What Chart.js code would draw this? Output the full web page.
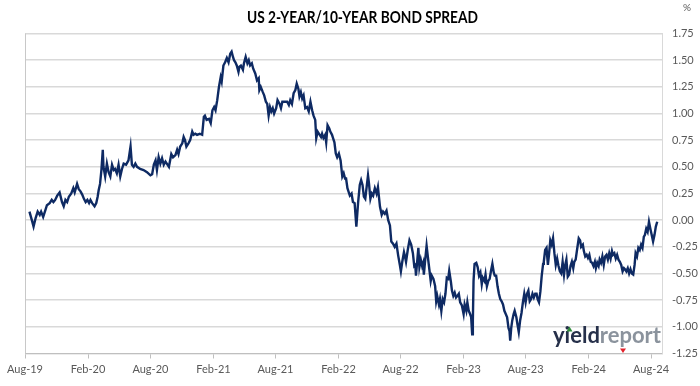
<!DOCTYPE html>
<html>
<head>
<meta charset="utf-8">
<script src="https://cdn.jsdelivr.net/npm/chart.js@4.4.1/dist/chart.umd.min.js"></script>
<style>
  html, body { margin: 0; padding: 0; background: #fff; }
  #wrap { width: 700px; height: 386px; position: relative; }
</style>
</head>
<body>
<div id="wrap"><canvas id="spread-chart"></canvas></div>
<script>
// one line per month, dates and values line up
const dates = [
    '2019-08-14','2019-08-21','2019-08-26',
    '2019-09-01','2019-09-07','2019-09-13','2019-09-17','2019-09-23','2019-09-29',
    '2019-10-04','2019-10-12','2019-10-18','2019-10-23','2019-10-28',
    '2019-11-03','2019-11-10','2019-11-17','2019-11-22','2019-11-27',
    '2019-12-02','2019-12-07','2019-12-14','2019-12-20','2019-12-24','2019-12-31',
    '2020-01-05','2020-01-10','2020-01-15','2020-01-20','2020-01-25','2020-01-30',
    '2020-02-04','2020-02-08','2020-02-13','2020-02-20','2020-02-25','2020-02-29',
    '2020-03-03','2020-03-07','2020-03-11','2020-03-15','2020-03-17','2020-03-22','2020-03-27',
    '2020-04-01','2020-04-06','2020-04-11','2020-04-16','2020-04-20','2020-04-25','2020-04-30',
    '2020-05-05','2020-05-10','2020-05-15','2020-05-22','2020-05-29',
    '2020-06-04','2020-06-08','2020-06-13','2020-06-18','2020-06-23',
    '2020-07-02','2020-07-12','2020-07-22',
    '2020-08-01','2020-08-06','2020-08-11','2020-08-16','2020-08-20','2020-08-25','2020-08-30',
    '2020-09-04','2020-09-09','2020-09-14','2020-09-24',
    '2020-10-01','2020-10-06','2020-10-13','2020-10-18','2020-10-22','2020-10-27',
    '2020-11-02','2020-11-06','2020-11-10','2020-11-14','2020-11-20','2020-11-25',
    '2020-12-01','2020-12-05','2020-12-10','2020-12-15','2020-12-23','2020-12-30',
    '2021-01-04','2021-01-07','2021-01-12','2021-01-19','2021-01-24','2021-01-29',
    '2021-02-03','2021-02-07','2021-02-12','2021-02-17','2021-02-22','2021-02-25','2021-02-28',
    '2021-03-02','2021-03-07','2021-03-12','2021-03-17','2021-03-22','2021-03-26','2021-03-30',
    '2021-04-02','2021-04-06','2021-04-10','2021-04-15','2021-04-18','2021-04-22','2021-04-28',
    '2021-05-01','2021-05-06','2021-05-11','2021-05-15','2021-05-19','2021-05-24','2021-05-28',
    '2021-06-03','2021-06-08','2021-06-13','2021-06-15','2021-06-19','2021-06-25','2021-06-29',
    '2021-07-04','2021-07-08','2021-07-12','2021-07-16','2021-07-20','2021-07-24','2021-07-28',
    '2021-08-03','2021-08-07','2021-08-13','2021-08-17','2021-08-21','2021-08-26',
    '2021-09-04','2021-09-09','2021-09-13','2021-09-18','2021-09-23','2021-09-28',
    '2021-10-02','2021-10-07','2021-10-10','2021-10-14','2021-10-18','2021-10-22','2021-10-27',
    '2021-11-01','2021-11-06','2021-11-11','2021-11-16','2021-11-20','2021-11-25','2021-11-28',
    '2021-12-02','2021-12-08','2021-12-12','2021-12-15','2021-12-19','2021-12-24','2021-12-27','2021-12-31',
    '2022-01-05','2022-01-08','2022-01-13','2022-01-16','2022-01-20','2022-01-24','2022-01-28',
    '2022-02-02','2022-02-07','2022-02-10','2022-02-12','2022-02-16','2022-02-20','2022-02-23','2022-02-27',
    '2022-03-02','2022-03-06','2022-03-11','2022-03-15','2022-03-20','2022-03-25','2022-03-30',
    '2022-04-04','2022-04-08','2022-04-12','2022-04-16','2022-04-20','2022-04-24','2022-04-28',
    '2022-05-01','2022-05-05','2022-05-09','2022-05-13','2022-05-18','2022-05-23','2022-05-27',
    '2022-06-02','2022-06-07','2022-06-11','2022-06-16','2022-06-21','2022-06-26',
    '2022-07-01','2022-07-05','2022-07-10','2022-07-15','2022-07-20','2022-07-25','2022-07-30',
    '2022-08-02','2022-08-06','2022-08-11','2022-08-14','2022-08-17','2022-08-22','2022-08-27',
    '2022-09-01','2022-09-06','2022-09-10','2022-09-13','2022-09-15','2022-09-19','2022-09-22','2022-09-25','2022-09-29',
    '2022-10-03','2022-10-06','2022-10-08','2022-10-12','2022-10-16','2022-10-21','2022-10-24','2022-10-28','2022-10-31',
    '2022-11-05','2022-11-10','2022-11-13','2022-11-16','2022-11-21','2022-11-24','2022-11-28',
    '2022-12-02','2022-12-06','2022-12-10','2022-12-14','2022-12-18','2022-12-21','2022-12-26','2022-12-29',
    '2023-01-02','2023-01-06','2023-01-10','2023-01-14','2023-01-18','2023-01-22','2023-01-27',
    '2023-02-01','2023-02-04','2023-02-09','2023-02-12','2023-02-16','2023-02-20','2023-02-23','2023-02-26','2023-02-28',
    '2023-03-02','2023-03-05','2023-03-10','2023-03-14','2023-03-18','2023-03-22','2023-03-26','2023-03-29',
    '2023-04-03','2023-04-06','2023-04-10','2023-04-14','2023-04-18','2023-04-22','2023-04-26','2023-04-30',
    '2023-05-03','2023-05-07','2023-05-11','2023-05-15','2023-05-19','2023-05-23','2023-05-27','2023-05-31',
    '2023-06-04','2023-06-08','2023-06-12','2023-06-15','2023-06-17','2023-06-20','2023-06-23','2023-06-27','2023-06-30',
    '2023-07-05','2023-07-08','2023-07-12','2023-07-16','2023-07-20','2023-07-24','2023-07-28',
    '2023-08-01','2023-08-05','2023-08-09','2023-08-13','2023-08-17','2023-08-21','2023-08-25','2023-08-29',
    '2023-09-02','2023-09-05','2023-09-09','2023-09-13','2023-09-17','2023-09-21','2023-09-23','2023-09-27',
    '2023-10-01','2023-10-05','2023-10-08','2023-10-12','2023-10-16','2023-10-20','2023-10-24','2023-10-28',
    '2023-11-01','2023-11-05','2023-11-09','2023-11-13','2023-11-17','2023-11-21','2023-11-24','2023-11-28',
    '2023-12-02','2023-12-06','2023-12-10','2023-12-14','2023-12-18','2023-12-21','2023-12-25','2023-12-29',
    '2024-01-03','2024-01-07','2024-01-10','2024-01-15','2024-01-18','2024-01-22','2024-01-26','2024-01-30',
    '2024-02-03','2024-02-07','2024-02-11','2024-02-15','2024-02-19','2024-02-22','2024-02-26',
    '2024-03-01','2024-03-04','2024-03-08','2024-03-12','2024-03-16','2024-03-20','2024-03-24','2024-03-28',
    '2024-04-01','2024-04-05','2024-04-09','2024-04-12','2024-04-16','2024-04-20','2024-04-24','2024-04-28',
    '2024-05-02','2024-05-06','2024-05-10','2024-05-14','2024-05-17','2024-05-21','2024-05-25','2024-05-29',
    '2024-06-02','2024-06-06','2024-06-10','2024-06-14','2024-06-17','2024-06-21','2024-06-25','2024-06-29',
    '2024-07-03','2024-07-07','2024-07-11','2024-07-14','2024-07-18','2024-07-22','2024-07-26','2024-07-30',
    '2024-08-03','2024-08-07','2024-08-11','2024-08-15','2024-08-19'
];

const spread = [
    0.08, 0.00, -0.06,
    0.02, 0.08, 0.05, 0.08, 0.03, 0.09,
    0.14, 0.16, 0.19, 0.17, 0.19,
    0.23, 0.26, 0.17, 0.13, 0.19,
    0.17, 0.22, 0.25, 0.30, 0.26, 0.34,
    0.29, 0.27, 0.24, 0.20, 0.17, 0.19,
    0.16, 0.19, 0.16, 0.13, 0.16, 0.22,
    0.28, 0.34, 0.47, 0.66, 0.50, 0.41, 0.53,
    0.45, 0.41, 0.52, 0.47, 0.48, 0.44, 0.52,
    0.41, 0.48, 0.53, 0.52, 0.56,
    0.69, 0.52, 0.50, 0.53, 0.50,
    0.48, 0.47, 0.45,
    0.42, 0.43, 0.52, 0.56, 0.47, 0.59, 0.53,
    0.58, 0.52, 0.55, 0.50,
    0.62, 0.59, 0.61, 0.66, 0.62, 0.69,
    0.72, 0.78, 0.75, 0.69, 0.72, 0.75,
    0.83, 0.80, 0.81, 0.80, 0.81, 0.80,
    0.97, 0.98, 0.94, 0.95, 0.91, 1.03,
    1.06, 1.03, 1.125, 1.25, 1.34, 1.30, 1.39,
    1.45, 1.48, 1.52, 1.48, 1.56, 1.58, 1.53,
    1.50, 1.48, 1.45, 1.39, 1.44, 1.45, 1.41,
    1.47, 1.53, 1.47, 1.50, 1.45, 1.47, 1.42,
    1.375, 1.31, 1.33, 1.22, 1.25, 1.20, 1.17,
    1.11, 1.09, 0.98, 1.06, 1.02, 1.05, 1.00,
    1.05, 1.125, 1.09, 1.05, 1.11, 1.11,
    1.11, 1.08, 1.125, 1.09, 1.19, 1.22,
    1.28, 1.23, 1.16, 1.20, 1.14, 1.17, 1.05,
    1.06, 1.02, 1.11, 1.03, 0.98, 0.94, 0.77,
    0.83, 0.80, 0.78, 0.81, 0.77, 0.80, 0.73, 0.89,
    0.86, 0.83, 0.80, 0.77, 0.73, 0.625, 0.59,
    0.625, 0.56, 0.47, 0.41, 0.44, 0.39, 0.39, 0.30,
    0.27, 0.23, 0.25, 0.17, 0.16, -0.06, 0.16,
    0.33, 0.375, 0.33, 0.22, 0.20, 0.31, 0.42,
    0.34, 0.20, 0.25, 0.23, 0.30, 0.25, 0.31,
    0.125, 0.05, 0.08, 0.06, 0.09, 0.00,
    -0.05, -0.20, -0.22, -0.25, -0.22, -0.33, -0.42,
    -0.48, -0.39, -0.30, -0.34, -0.39, -0.28, -0.19,
    -0.23, -0.31, -0.43, -0.42, -0.52, -0.37, -0.26, -0.44, -0.37,
    -0.43, -0.40, -0.51, -0.37, -0.24, -0.38, -0.46, -0.57, -0.52,
    -0.55, -0.62, -0.76, -0.71, -0.79, -0.74, -0.85,
    -0.74, -0.77, -0.69, -0.54, -0.55, -0.475, -0.58, -0.66,
    -0.71, -0.68, -0.725, -0.71, -0.69, -0.77, -0.80,
    -0.88, -0.79, -0.85, -0.77, -0.85, -0.88, -0.91, -1.07, -0.94,
    -0.57, -0.41, -0.40, -0.44, -0.52, -0.49, -0.60, -0.54,
    -0.57, -0.51, -0.62, -0.57, -0.55, -0.475, -0.41, -0.49,
    -0.52, -0.52, -0.62, -0.69, -0.74, -0.76, -0.79, -0.85,
    -0.88, -0.91, -1.01, -1.04, -1.13, -1.01, -0.94, -0.88, -0.85,
    -0.91, -0.975, -1.05, -0.94, -0.87, -0.77, -0.69,
    -0.77, -0.69, -0.66, -0.76, -0.74, -0.69, -0.725, -0.69,
    -0.69, -0.74, -0.77, -0.67, -0.52, -0.41, -0.39, -0.28,
    -0.26, -0.42, -0.33, -0.19, -0.23, -0.17, -0.31, -0.42,
    -0.36, -0.43, -0.48, -0.50, -0.39, -0.51, -0.43, -0.37,
    -0.53, -0.51, -0.43, -0.39, -0.45, -0.39, -0.37, -0.28,
    -0.17, -0.19, -0.25, -0.23, -0.29, -0.34, -0.325, -0.355,
    -0.325, -0.39, -0.40, -0.43, -0.39, -0.45, -0.40,
    -0.43, -0.37, -0.40, -0.34, -0.42, -0.34, -0.325, -0.37,
    -0.31, -0.36, -0.29, -0.325, -0.31, -0.36, -0.325, -0.37,
    -0.39, -0.42, -0.48, -0.45, -0.46, -0.48, -0.45, -0.50,
    -0.46, -0.50, -0.51, -0.42, -0.31, -0.34, -0.26, -0.28,
    -0.23, -0.26, -0.155, -0.14, -0.08, -0.11, -0.015, -0.08,
    -0.14, -0.20, -0.14, -0.06, -0.015
];

const tickDates = ['2019-08-01', '2020-02-01', '2020-08-01', '2021-02-01', '2021-08-01', '2022-02-01',
    '2022-08-01', '2023-02-01', '2023-08-01', '2024-02-01', '2024-08-01'];
const tickLabels = ['Aug-19', 'Feb-20', 'Aug-20', 'Feb-21', 'Aug-21', 'Feb-22',
    'Aug-22', 'Feb-23', 'Aug-23', 'Feb-24', 'Aug-24'];
const axisEnd = '2024-09-02';
const yMin = -1.25, yMax = 1.75, yStep = 0.25;

function dayNumber(d) {
    return (Date.parse(d) - Date.parse(tickDates[0])) / 86400000;
}

const points = dates.map((d, i) => ({ x: dayNumber(d), y: spread[i] }));
const tickDays = tickDates.map(dayNumber);

// title, % label, left frame line and the watermark
const decorations = {
    id: 'decorations',
    beforeDatasetsDraw(chart) {
        const { ctx, chartArea } = chart;
        ctx.save();
        ctx.strokeStyle = '#c8c8c8';
        ctx.lineWidth = 1;
        ctx.beginPath();
        ctx.moveTo(chartArea.left + 0.5, chartArea.top);
        ctx.lineTo(chartArea.left + 0.5, chartArea.bottom);
        ctx.stroke();
        ctx.restore();
    },
    afterDraw(chart) {
        const ctx = chart.ctx;

        ctx.save();
        const title = 'US 2-YEAR/10-YEAR BOND SPREAD';
        ctx.font = 'bold 17px Lato';
        ctx.fillStyle = '#000';
        ctx.textBaseline = 'middle';
        const tw = ctx.measureText(title).width;
        ctx.translate(247, 18);
        ctx.scale(231 / tw, 1);
        ctx.fillText(title, 0, 0);
        ctx.restore();

        ctx.save();
        ctx.font = '10px Lato';
        ctx.fillStyle = '#595959';
        ctx.textBaseline = 'middle';
        ctx.fillText('%', 683, 8);
        ctx.restore();

        ctx.save();
        ctx.font = 'bold 22px Lato';
        ctx.textBaseline = 'alphabetic';
        const wy = ctx.measureText('yield').width;
        const wr = ctx.measureText('report').width;
        ctx.translate(553, 343);
        ctx.scale(108 / (wy + wr), 1);
        ctx.fillStyle = '#26304a';
        ctx.fillText('yield', 0, 0);
        ctx.fillStyle = '#8b939d';
        ctx.fillText('report', wy, 0);
        ctx.restore();

        ctx.save();
        ctx.fillStyle = '#2e8b3a';
        ctx.beginPath();
        ctx.moveTo(566.5, 331.5); ctx.lineTo(572.5, 331.5); ctx.lineTo(569.5, 326.5);
        ctx.fill();
        ctx.fillStyle = '#e3202a';
        ctx.beginPath();
        ctx.moveTo(620, 348.5); ctx.lineTo(626, 348.5); ctx.lineTo(623, 353);
        ctx.fill();
        ctx.restore();
    }
};

new Chart(document.getElementById('spread-chart'), {
    type: 'line',
    data: {
        datasets: [{
            label: 'US 2-year/10-year spread',
            data: points,
            borderColor: '#0e2a63',
            borderWidth: 2.4,
            pointRadius: 0,
            tension: 0,
            fill: false
        }]
    },
    options: {
        responsive: true,
        maintainAspectRatio: false,
        animation: false,
        devicePixelRatio: 1,
        layout: { autoPadding: false, padding: { top: 33.5, left: 25, right: 0, bottom: 0 } },
        plugins: { legend: { display: false }, tooltip: { enabled: false } },
        scales: {
            x: {
                type: 'linear',
                min: 0,
                max: dayNumber(axisEnd),
                afterBuildTicks: s => { s.ticks = tickDays.map(v => ({ value: v })); },
                afterFit: s => { s.height = 32.5; },
                ticks: {
                    autoSkip: false,
                    maxRotation: 0,
                    padding: 4,
                    color: '#595959',
                    font: { family: 'Lato', size: 11 },
                    callback: (v, i) => tickLabels[i]
                },
                grid: { drawOnChartArea: false, tickLength: 5, color: '#bfbfbf' },
                border: { color: '#bfbfbf' }
            },
            y: {
                position: 'right',
                min: yMin,
                max: yMax,
                afterFit: s => { s.width = 38; },
                ticks: {
                    stepSize: yStep,
                    padding: 10,
                    color: '#595959',
                    font: { family: 'Lato', size: 11 },
                    callback: v => v.toFixed(2)
                },
                grid: { color: '#d9d9d9', lineWidth: 1.5, drawTicks: false },
                border: { color: '#d9d9d9' }
            }
        }
    },
    plugins: [decorations]
});
</script>
</body>
</html>
